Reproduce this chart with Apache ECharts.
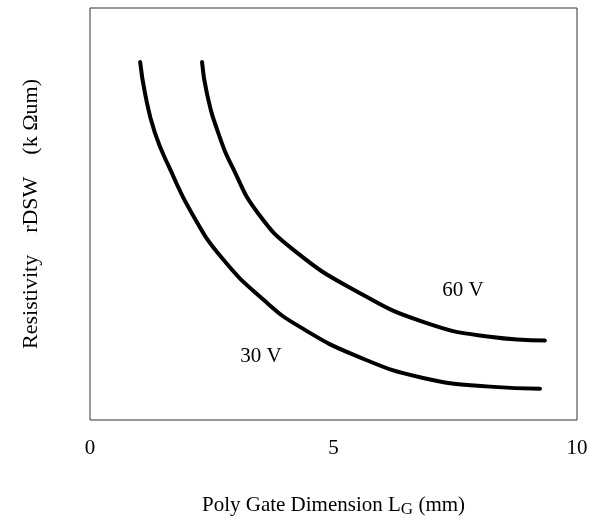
<!DOCTYPE html>
<html>
<head>
<meta charset="utf-8">
<script src="https://cdn.jsdelivr.net/npm/echarts@6/dist/echarts.min.js"></script>
<style>
  html, body { margin: 0; padding: 0; background: #fff; }
  #chart { width: 593px; height: 523px; }
</style>
</head>
<body>
<div id="chart"></div>
<script>
// gate length (x) vs resistivity (arbitrary units, y axis has no scale)
const x30 = [1.03, 1.13, 1.33, 1.64, 2.09, 2.71, 3.60, 4.31, 5.48, 6.84, 8.21, 9.24];
const y30 = [86.9, 79.3, 69.8, 61.0, 50.2, 39.3, 28.8, 22.6, 15.5, 10.2, 8.1, 7.6];
const x60 = [2.30, 2.40, 2.63, 2.94, 3.45, 4.21, 5.48, 6.84, 8.21, 9.34];
const y60 = [86.9, 79.3, 69.8, 61.0, 50.2, 41.0, 31.2, 23.8, 20.2, 19.3];
const seriesNames = ["30 V", "60 V"];
const labelAt = [[3.51, 15.5], [7.66, 31.4]];

const font = "Liberation Serif, Times New Roman, serif";
const zip = (xs, ys) => xs.map((x, i) => [x, ys[i]]);

function mkSeries(name, data, lbl) {
  return {
    name: name,
    type: "line",
    data: data,
    smooth: 0.5,
    showSymbol: false,
    lineStyle: { color: "#000", width: 4, cap: "round" },
    markPoint: {
      symbol: "circle",
      symbolSize: 0,
      label: {
        show: true,
        formatter: name,
        color: "#000",
        fontFamily: font,
        fontSize: 21,
      },
      data: [{ coord: lbl }],
    },
  };
}

const chart = echarts.init(document.getElementById("chart"));
chart.setOption({
  animation: false,
  grid: {
    left: 90,
    right: 16,
    top: 8,
    bottom: 95,
    show: true,
    borderColor: "#333",
    borderWidth: 1,
  },
  xAxis: {
    type: "value",
    min: 0,
    max: 10,
    interval: 5,
    axisLine: { show: false },
    axisTick: { show: false },
    splitLine: { show: false },
    axisLabel: { color: "#000", fontFamily: font, fontSize: 21, margin: 18 },
    name: "{a|Poly Gate Dimension L}{s|G}{a| (mm)}",
    nameLocation: "middle",
    nameGap: 72,
    nameTextStyle: {
      rich: {
        a: { color: "#000", fontFamily: font, fontSize: 21 },
        s: { color: "#000", fontFamily: font, fontSize: 17, padding: [9, 0, 0, 0] },
      },
    },
  },
  yAxis: {
    type: "value",
    min: 0,
    max: 100,
    axisLine: { show: false },
    axisTick: { show: false },
    splitLine: { show: false },
    axisLabel: { show: false },
    name: "Resistivity    rDSW    (k \u03A9um)",
    nameLocation: "middle",
    nameGap: 48,
    nameTextStyle: { color: "#000", fontFamily: font, fontSize: 22 },
  },
  series: [
    mkSeries(seriesNames[0], zip(x30, y30), labelAt[0]),
    mkSeries(seriesNames[1], zip(x60, y60), labelAt[1]),
  ],
});
</script>
</body>
</html>
